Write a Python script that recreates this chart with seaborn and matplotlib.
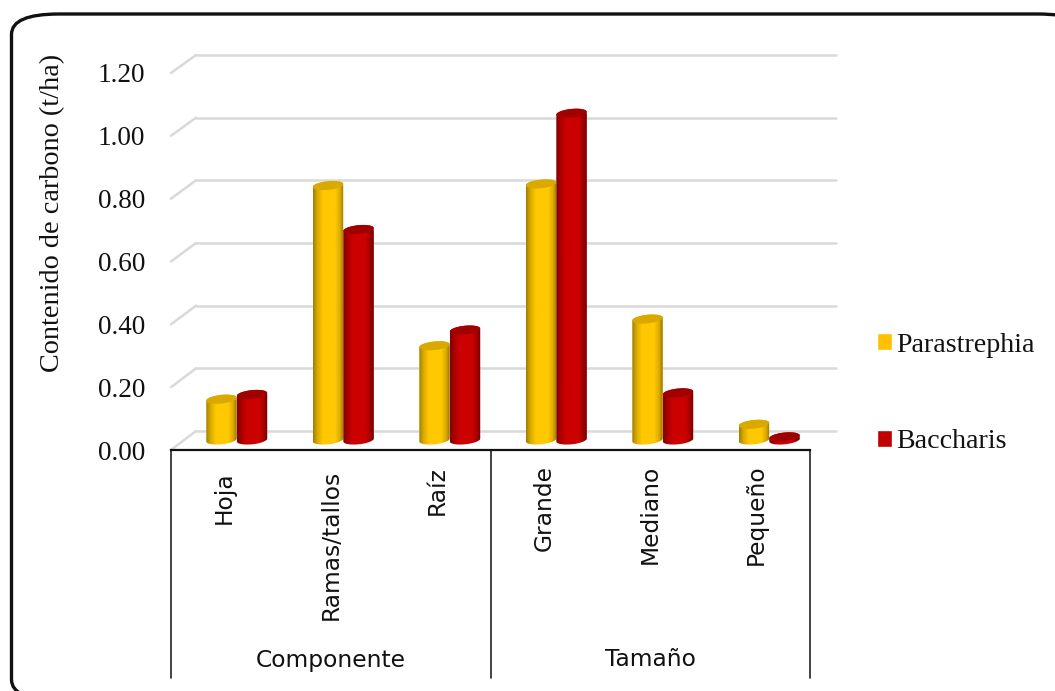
import numpy as np
import pandas as pd
import matplotlib
matplotlib.use("Agg")
import matplotlib.pyplot as plt
import seaborn as sns
from matplotlib.colors import LinearSegmentedColormap
from matplotlib.lines import Line2D
from matplotlib.patches import FancyBboxPatch, PathPatch
from matplotlib.path import Path
from matplotlib.transforms import IdentityTransform, ScaledTranslation, blended_transform_factory

# Carbon content per category (t/ha)
categorias = ["Hoja", "Ramas/tallos", "Raíz", "Grande", "Mediano", "Pequeño"]
parastrephia = [0.13, 0.81, 0.30, 0.815, 0.385, 0.05]
baccharis = [0.145, 0.67, 0.35, 1.04, 0.15, 0.01]
especies = ["Parastrephia", "Baccharis"]
grupos = ["Componente", "Tamaño"]
ticks_y = [0.0, 0.2, 0.4, 0.6, 0.8, 1.0, 1.2]
titulo_y = "Contenido de carbono (t/ha)"

W, H = 1055, 691
SERIF = "Liberation Serif"
SANS = "DejaVu Sans"


def rect(left, right, bottom, top):
    """Axes rectangle from pixel edges measured from the top-left corner."""
    return [left / W, 1 - bottom / H, (right - left) / W, (bottom - top) / H]


sns.set_theme(style="white")
fig = plt.figure(figsize=(W / 100, H / 100), dpi=100, facecolor="white")

# Rounded outer frame of the chart area
fig.add_artist(FancyBboxPatch(
    (11.5 / W, 1 - 700 / H), 1074 / W, 686 / H,
    boxstyle="round,pad=0,rounding_size=0.045", transform=fig.transFigure,
    mutation_aspect=H / W, fc="white", ec="#111111", lw=2.4, clip_on=False))

# Back wall holding the gridlines
wall = fig.add_axes(rect(196, 836, 431, 55), zorder=1)
wall.set_facecolor("none")
wall.set_xlim(0, 1)
wall.set_ylim(0, 1.2)
wall.set_xticks([])
wall.set_yticks(ticks_y)
wall.tick_params(left=False, labelleft=False)
wall.yaxis.grid(True, color="#D9D9D9", lw=1.8)
for linea in wall.get_ygridlines():
    linea.set_clip_on(False)
wall.set_axisbelow(True)
sns.despine(ax=wall, left=True, bottom=True)

# Front plane with the value axis and the category labels
front = fig.add_axes(rect(171, 810, 450, 73), zorder=3)
front.set_facecolor("none")
front.set_xlim(-0.5, 5.5)
front.set_ylim(0, 1.2)
front.set_yticks(ticks_y)
front.set_yticklabels([f"{v:.2f}" for v in ticks_y], family=SERIF, fontsize=19.6, color="#111111")
front.tick_params(axis="y", left=False, pad=12.5)
front.set_xticks(range(len(categorias)))
front.set_xticklabels(categorias, rotation=90, family=SANS, fontsize=16.8, color="#111111")
front.tick_params(axis="x", bottom=False, pad=9)
# Excel-style uneven upward nudges of the rotated labels, in pixels
for etiqueta, subida in zip(front.get_xticklabels(), (-1, 1, 5, 6, 6, 6)):
    etiqueta.set_transform(etiqueta.get_transform() + ScaledTranslation(0, subida / 100, fig.dpi_scale_trans))
front.set_ylabel(titulo_y, family=SERIF, fontsize=20.3, color="#111111")
front.yaxis.set_label_coords(-0.1655, 0.628)
sns.despine(ax=front, left=True)
front.spines["bottom"].set_color("#111111")
front.spines["bottom"].set_linewidth(1.6)

# Group brackets below the categories
trans = blended_transform_factory(front.transData, front.transAxes)
drop = -(678 - 450) / (450 - 73)
for xpos in (-0.5, 2.5, 5.5):
    front.add_line(Line2D([xpos, xpos], [0, drop], transform=trans, color="#222222", lw=1.2, clip_on=False))
for xpos, nombre in zip((1.0, 4.0), grupos):
    front.text(xpos, -(660 - 450) / (450 - 73), nombre, transform=trans, ha="center", va="center",
               family=SANS, fontsize=16.8, color="#111111")

# Slanted side wall lines joining the front axis to the back wall
fig.canvas.draw()
for v in ticks_y:
    p0 = front.transData.transform((-0.5, v))
    p1 = wall.transData.transform((0, v))
    fig.add_artist(Line2D([p0[0], p1[0]], [p0[1], p1[1]], transform=IdentityTransform(),
                          color="#D9D9D9", lw=1.8))

# Cylinder plane between front and back
plano = fig.add_axes(rect(183.5, 822.5, 440, 63), zorder=2)
plano.set_facecolor("none")
tabla = pd.DataFrame({
    "categoria": categorias * 2,
    "carbono": parastrephia + baccharis,
    "especie": [especies[0]] * len(categorias) + [especies[1]] * len(categorias),
})
sns.barplot(data=tabla, x="categoria", y="carbono", hue="especie", order=categorias,
            palette=["#FFC000", "#C00000"], width=0.573, gap=0, saturation=1,
            errorbar=None, ax=plano)
plano.set_xlim(-0.5, 5.5)
plano.set_ylim(0, 1.2)
plano.set_autoscale_on(False)
plano.set_xlabel("")
plano.set_ylabel("")
plano.set_xticks([])
plano.set_yticks([])
sns.despine(ax=plano, left=True, bottom=True)

sns.move_legend(plano, "upper left", bbox_to_anchor=(877 / W, 1 - 332.5 / H),
                bbox_transform=fig.transFigure, title=None, frameon=False, fontsize=20.2,
                handlelength=0.55, handleheight=0.55, handletextpad=0.13, labelspacing=2.55,
                borderpad=0, borderaxespad=0)
for texto in plano.get_legend().get_texts():
    texto.set_family(SERIF)
    texto.set_color("#111111")

# Cylinder shading and caps
rampas = [
    LinearSegmentedColormap.from_list(
        "oro", [(0, "#A08000"), (0.14, "#DAAA00"), (0.32, "#FFC800"), (0.72, "#FFC800"),
                (0.88, "#DCAC00"), (1, "#987600")]),
    LinearSegmentedColormap.from_list(
        "rojo", [(0, "#800000"), (0.16, "#B00000"), (0.32, "#CC0000"), (0.72, "#CC0000"),
                 (0.88, "#A40000"), (1, "#700000")]),
]
tapas = ["#D9A900", "#A00000"]
SEMI_B = 4.3
TILT = np.deg2rad(6)


def elipse(cx, cy, a, ang):
    ex = a * np.cos(ang)
    ey = SEMI_B * np.sin(ang)
    return np.column_stack([cx + ex * np.cos(TILT) - ey * np.sin(TILT),
                            cy + ex * np.sin(TILT) + ey * np.cos(TILT)])


fig.canvas.draw()
for barras, rampa, tapa in zip(plano.containers, rampas, tapas):
    for barra in barras:
        x0, x1 = barra.get_x(), barra.get_x() + barra.get_width()
        valor = barra.get_height()
        (p0x, p0y), (p1x, p1y) = plano.transData.transform([(x0, 0), (x1, valor)])
        cx, a = (p0x + p1x) / 2, (p1x - p0x) / 2
        # silhouette: lower half of the base, upper half of the top
        perfil = np.vstack([
            elipse(cx, p0y, a, np.linspace(np.pi, 2 * np.pi, 40)),
            elipse(cx, p1y, a, np.linspace(0, np.pi, 40)),
        ])
        silueta = Path(np.vstack([perfil, perfil[0]]), closed=True)
        barra.set_clip_path(silueta, IdentityTransform())
        imagen = plano.imshow(np.linspace(0, 1, 64)[None, :], cmap=rampa, aspect="auto",
                              extent=(x0, x1, -0.04, valor + 0.04), origin="lower",
                              zorder=barra.get_zorder() + 0.1, clip_on=True)
        imagen.set_clip_box(fig.bbox)
        imagen.set_clip_path(silueta, IdentityTransform())
        tapa_xy = elipse(cx, p1y, a, np.linspace(0, 2 * np.pi, 80))
        plano.add_patch(PathPatch(Path(np.vstack([tapa_xy, tapa_xy[0]]), closed=True),
                                  transform=IdentityTransform(), fc=tapa, ec="none",
                                  zorder=barra.get_zorder() + 0.2, clip_on=False))

fig.savefig("out.png", dpi=100, facecolor="white")
